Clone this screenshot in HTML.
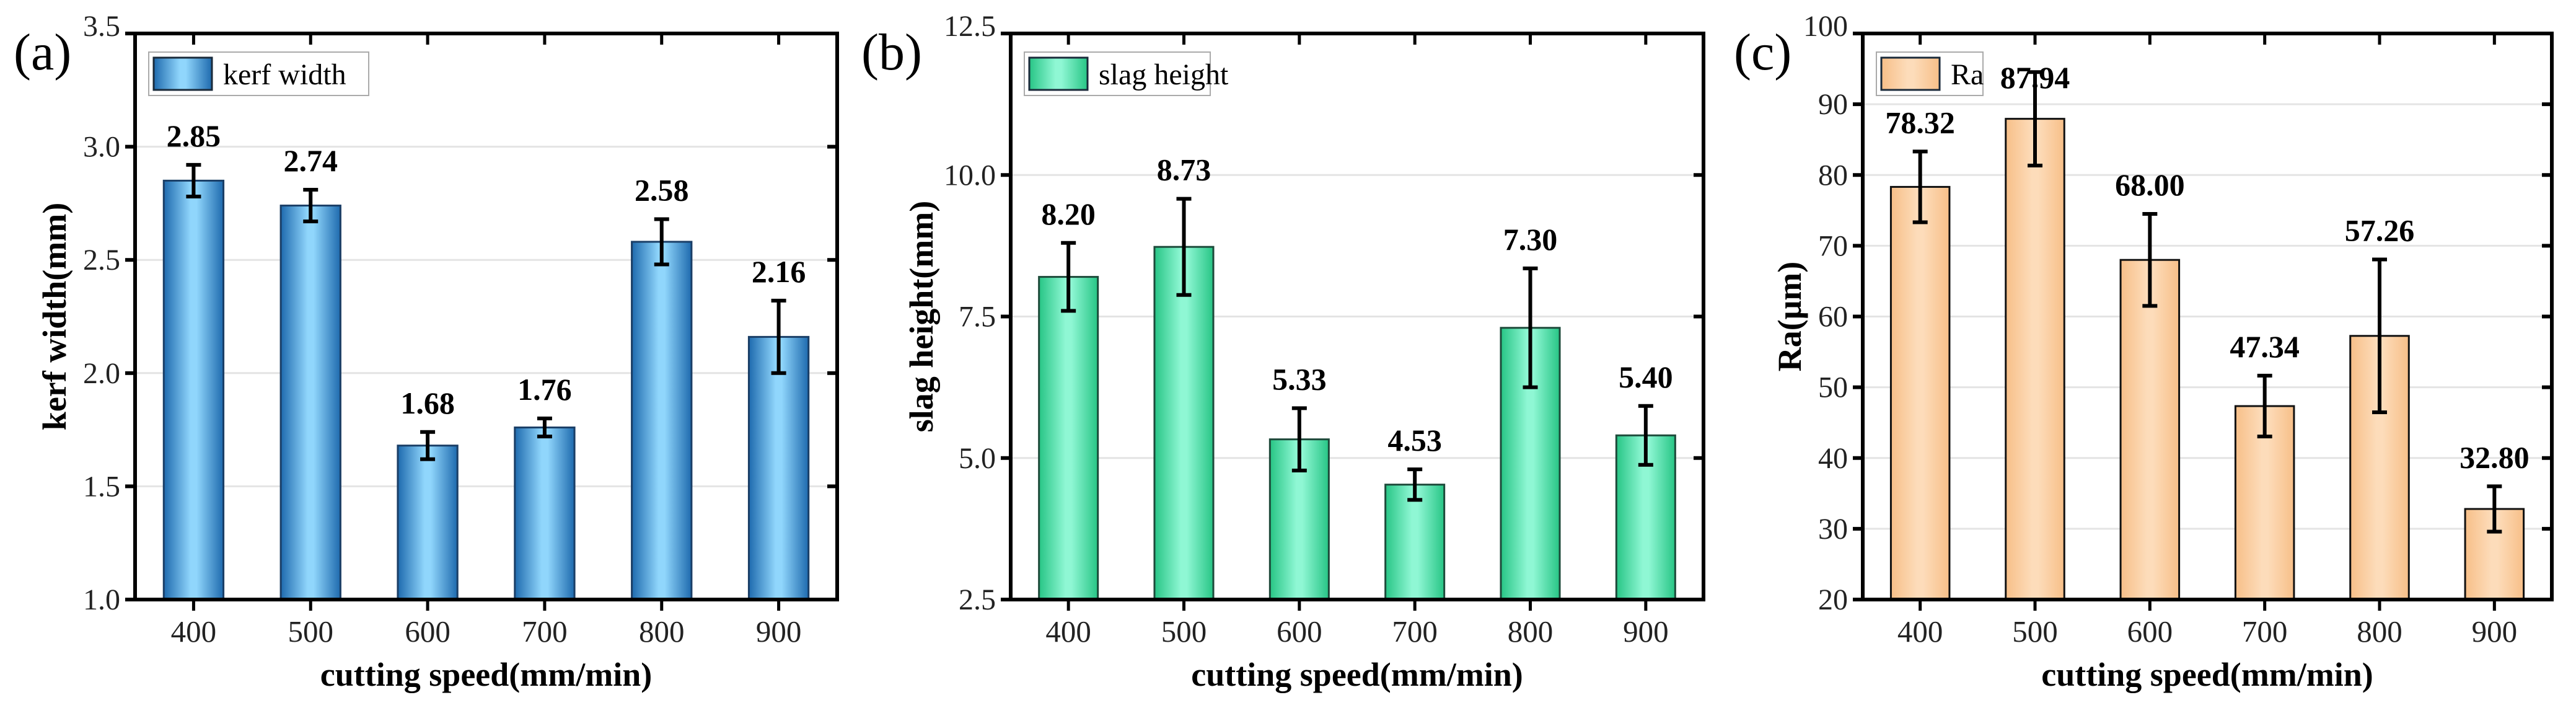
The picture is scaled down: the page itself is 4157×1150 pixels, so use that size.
<!DOCTYPE html>
<html><head><meta charset="utf-8"><style>
html,body{margin:0;padding:0;background:#fff}
svg{display:block}
text{font-family:"Liberation Serif",serif}
</style></head><body>
<svg id="chart" width="4157" height="1150" viewBox="0 0 4157 1150" xmlns="http://www.w3.org/2000/svg">
<defs>
<linearGradient id="gBlue" x1="0" x2="1" y1="0" y2="0"><stop offset="0" stop-color="#1e6aae"/><stop offset="0.45" stop-color="#90d6fc"/><stop offset="0.55" stop-color="#90d6fc"/><stop offset="1" stop-color="#1e6aae"/></linearGradient>
<linearGradient id="gGreen" x1="0" x2="1" y1="0" y2="0"><stop offset="0" stop-color="#27c585"/><stop offset="0.45" stop-color="#8ff7d4"/><stop offset="0.55" stop-color="#8ff7d4"/><stop offset="1" stop-color="#27c585"/></linearGradient>
<linearGradient id="gOrange" x1="0" x2="1" y1="0" y2="0"><stop offset="0" stop-color="#f7bf88"/><stop offset="0.45" stop-color="#fddcba"/><stop offset="0.55" stop-color="#fddcba"/><stop offset="1" stop-color="#f7bf88"/></linearGradient>
</defs>
</svg>
<script>
const categories = ["400","500","600","700","800","900"];
const kerfValues = [2.85, 2.74, 1.68, 1.76, 2.58, 2.16];
const kerfErrors = [0.07, 0.07, 0.06, 0.04, 0.10, 0.16];
const kerfTicks = ["1.0","1.5","2.0","2.5","3.0","3.5"];
const slagValues = [8.20, 8.73, 5.33, 4.53, 7.30, 5.40];
const slagErrors = [0.60, 0.85, 0.55, 0.27, 1.05, 0.52];
const slagTicks = ["2.5","5.0","7.5","10.0","12.5"];
const raValues = [78.32, 87.94, 68.00, 47.34, 57.26, 32.80];
const raErrors = [5.0, 6.6, 6.5, 4.3, 10.8, 3.2];
const raTicks = ["20","30","40","50","60","70","80","90","100"];

const NS = "http://www.w3.org/2000/svg";
const svgRoot = document.getElementById('chart');
function el(tag, attrs, parent, txt){
  const e = document.createElementNS(NS, tag);
  for (const k in attrs) e.setAttribute(k, attrs[k]);
  if (txt !== undefined) e.textContent = txt;
  (parent || svgRoot).appendChild(e);
  return e;
}

const panels = [
  {key:'a', label:'(a)', lx:22, left:218, right:1351, vals:kerfValues, errs:kerfErrors, ticks:kerfTicks, fill:'url(#gBlue)', stroke:'#1a3e66', title:'kerf width(mm)', tx:88, legend:'kerf width', legW:355, legH:70, dec:2},
  {key:'b', label:'(b)', lx:1390, left:1631, right:2749, vals:slagValues, errs:slagErrors, ticks:slagTicks, fill:'url(#gGreen)', stroke:'#1d4a3a', title:'slag height(mm)', tx:1487, legend:'slag height', legW:300, legH:70, dec:2},
  {key:'c', label:'(c)', lx:2798, left:3006, right:4118, vals:raValues, errs:raErrors, ticks:raTicks, fill:'url(#gOrange)', stroke:'#111', title:'Ra(\u03bcm)', tx:2888, legend:'Ra', legW:172, legH:70, dec:2}
];
const plotTop = 54, plotBottom = 967;

panels.forEach(p => {
  const g = el('g', {}, svgRoot);
  
  
  const tmin = parseFloat(p.ticks[0]), tmax = parseFloat(p.ticks[p.ticks.length-1]);
  const y = v => plotBottom - (v - tmin) / (tmax - tmin) * (plotBottom - plotTop);
  const step = (p.right - p.left) / categories.length;
  const x = i => p.left + step * (i + 0.5);
  const bw = step * 0.51;

  p.ticks.forEach((t, i) => {
    if (i === 0 || i === p.ticks.length - 1) return;
    const gl = el('line', {x1:p.left, x2:p.right, y1:y(parseFloat(t)), y2:y(parseFloat(t)), stroke:'#e4e4e4', 'stroke-width':3}, g);
    
    
  });

  p.vals.forEach((v, i) => {
    const b = el('rect', {x:x(i)-bw/2, y:y(v), width:bw, height:plotBottom-y(v), fill:p.fill, stroke:p.stroke, 'stroke-width':3}, g);
    
    
    const e = p.errs[i];
    const eg = el('g', {stroke:'#000', 'stroke-width':6}, g);
    
    
    el('line', {x1:x(i), x2:x(i), y1:y(v+e), y2:y(v-e)}, eg);
    el('line', {x1:x(i)-12, x2:x(i)+12, y1:y(v+e), y2:y(v+e)}, eg);
    el('line', {x1:x(i)-12, x2:x(i)+12, y1:y(v-e), y2:y(v-e)}, eg);
    const ly = Math.max(y(v+e)-30, plotTop+88);
    const lbl = el('text', {x:x(i), y:ly, 'text-anchor':'middle', 'font-size':50, 'font-weight':'bold', fill:'#000'}, g, v.toFixed(p.dec));
    
    
  });

  const fr = el('rect', {x:p.left, y:plotTop, width:p.right-p.left, height:plotBottom-plotTop, fill:'none', stroke:'#000', 'stroke-width':6}, g);
  
  

  p.ticks.forEach((t, i) => {
    const yy = y(parseFloat(t));
    el('line', {x1:p.left-16, x2:p.left, y1:yy, y2:yy, stroke:'#000', 'stroke-width':6}, g);
    el('line', {x1:p.right-16, x2:p.right, y1:yy, y2:yy, stroke:'#000', 'stroke-width':6}, g);
    const dy = (i === p.ticks.length - 1) ? 4 : 16;
    const tl = el('text', {x:p.left-24, y:yy+dy, 'text-anchor':'end', 'font-size':48, fill:'#222'}, g, t);
    
    
  });
  categories.forEach((c, i) => {
    el('line', {x1:x(i), x2:x(i), y1:plotBottom, y2:plotBottom+18, stroke:'#000', 'stroke-width':5}, g);
    el('line', {x1:x(i), x2:x(i), y1:plotTop, y2:plotTop+18, stroke:'#000', 'stroke-width':5}, g);
    const tl = el('text', {x:x(i), y:1035, 'text-anchor':'middle', 'font-size':49, fill:'#222'}, g, c);
    
    
  });

  const xt = el('text', {x:(p.left+p.right)/2, y:1106, 'text-anchor':'middle', 'font-size':54, 'font-weight':'bold', fill:'#000'}, g, 'cutting speed(mm/min)');
  
  
  const cy = (plotTop + plotBottom) / 2;
  const yt = el('text', {x:p.tx, y:cy, 'text-anchor':'middle', 'font-size':54, 'font-weight':'bold', fill:'#000', transform:'rotate(-90 '+p.tx+' '+cy+') translate(0 18)'}, g, p.title);
  
  
  const pl = el('text', {x:p.lx, y:112, 'font-size':84, fill:'#000'}, g, p.label);
  
  

  const lg = el('g', {}, g);
  
  
  const lx = p.left + 22, ly = 84;
  el('rect', {x:lx, y:ly, width:p.legW, height:p.legH, fill:'#fff', stroke:'#aaa', 'stroke-width':2}, lg);
  el('rect', {x:lx+8, y:ly+9, width:94, height:52, fill:p.fill, stroke:'#1a2a3a', 'stroke-width':3}, lg);
  el('text', {x:lx+120, y:ly+52, 'font-size':48, fill:'#000'}, lg, p.legend);
});
</script>
</body></html>
